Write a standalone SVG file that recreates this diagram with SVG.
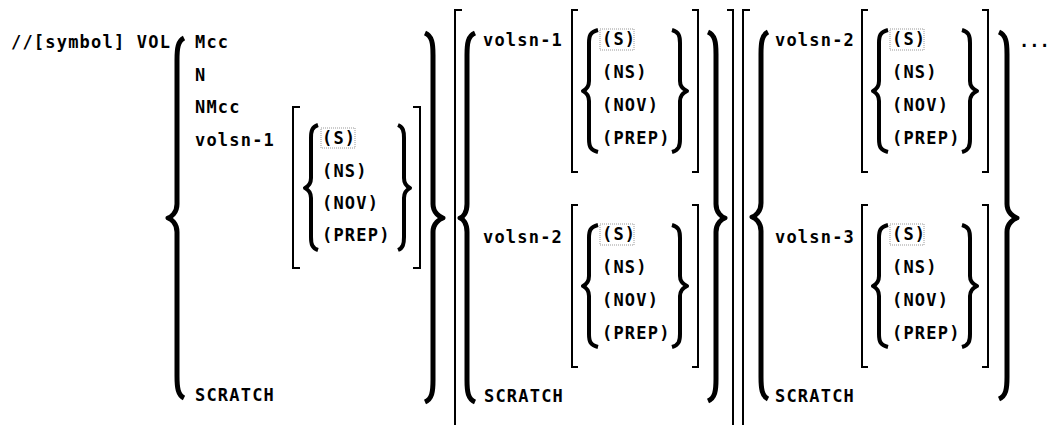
<svg xmlns="http://www.w3.org/2000/svg" width="1051" height="425" viewBox="0 0 1051 425">
<style>
text{font-family:"DejaVu Sans Mono","Liberation Mono",monospace;font-weight:bold;font-size:17px;letter-spacing:1.2px;fill:#000}
.br{fill:none;stroke:#000;stroke-width:5;stroke-linejoin:round}
.bi{fill:none;stroke:#000;stroke-width:4;stroke-linejoin:round}
.sq{fill:none;stroke:#000;stroke-width:2}
.hl{fill:none;stroke:#999;stroke-width:1;stroke-dasharray:1 1}
</style>
<defs>
<path id="ib-open" class="bi" d="M598,30 C590,32 589,36 589,43 L589,81 C589,88 585,90 583,91 C585,92 589,94 589,101 L589,139 C589,146 590,150 598,152"/>
<path id="ib-close" class="bi" d="M672,30 C679,32 680,36 680,43 L680,81 C680,88 685,90 687,91 C685,92 680,94 680,101 L680,139 C680,146 679,150 672,152"/>
<path id="sq-open" class="sq" d="M578,10 L572,10 L572,172 L578,172"/>
<path id="sq-close" class="sq" d="M692,10 L698,10 L698,172 L692,172"/>
<g id="opts">
<rect class="hl" x="600" y="29" width="34" height="21"/>
<text x="602" y="45">(S)</text>
<text x="602" y="78">(NS)</text>
<text x="602" y="111">(NOV)</text>
<text x="602" y="144">(PREP)</text>
</g>
<g id="block">
<use href="#sq-open"/>
<use href="#ib-open"/>
<use href="#opts"/>
<use href="#ib-close"/>
<use href="#sq-close"/>
</g>
</defs>

<g id="head">
<text x="11" y="48">//[symbol] VOL</text>
</g>

<g id="groupA">
<path class="br" d="M184,38 C178,41 177,48 177,60 L177,204 C177,213 171,217 168,218 C171,219 177,223 177,232 L177,376 C177,388 178,395 184,398"/>
<text x="195" y="48">Mcc</text>
<text x="195" y="80.5">N</text>
<text x="195" y="113">NMcc</text>
<text x="195" y="145.5">volsn-1</text>
<text x="195" y="401">SCRATCH</text>
<path class="sq" d="M300,107 L293,107 L293,268 L300,268"/>
<path class="bi" d="M318,125 C312,127 311,131 311,138 L311,178 C311,185 307,187 305,188 C307,189 311,191 311,198 L311,237 C311,244 312,248 318,250"/>
<rect class="hl" x="321" y="128" width="34" height="20"/>
<text x="322" y="144">(S)</text>
<text x="322" y="176.5">(NS)</text>
<text x="322" y="209">(NOV)</text>
<text x="322" y="241">(PREP)</text>
<path class="bi" d="M398,125 C403,127 404,131 404,138 L404,178 C404,185 408,187 410,188 C408,189 404,191 404,198 L404,237 C404,244 403,248 398,250"/>
<path class="sq" d="M413,107 L420,107 L420,268 L413,268"/>
<path class="br" d="M425,33 C432,36 433,43 433,55 L433,204 C433,213 440,217 443,218 C440,219 433,223 433,232 L433,380 C433,392 432,399 425,402"/>
</g>

<g id="groupB">
<path class="sq" d="M462,10 L455,10 L455,425"/>
<path class="br" d="M475,33 C468,36 467,43 467,55 L467,204 C467,213 463,217 460,218 C463,219 467,223 467,232 L467,380 C467,392 468,399 475,402"/>
<text x="483" y="46">volsn-1</text>
<use href="#block"/>
<text x="483" y="243">volsn-2</text>
<use href="#block" transform="translate(0,195)"/>
<text x="484" y="402">SCRATCH</text>
<path class="br" d="M708,32 C715,35 716,42 716,54 L716,204 C716,213 722,217 725,218 C722,219 716,223 716,232 L716,379 C716,391 715,398 708,401"/>
<path class="sq" d="M727,10 L733,10 L733,425"/>
</g>

<g id="groupC">
<path class="sq" d="M750,10 L743,10 L743,425"/>
<path class="br" d="M768,32 C762,35 761,42 761,54 L761,203 C761,212 755,216 752,217 C755,218 761,222 761,231 L761,377 C761,389 762,396 768,399"/>
<text x="775" y="46">volsn-2</text>
<use href="#block" transform="translate(290,0)"/>
<text x="775" y="243">volsn-3</text>
<use href="#block" transform="translate(290,195)"/>
<text x="775" y="402">SCRATCH</text>
<path class="br" d="M999,32 C1006,35 1007,42 1007,54 L1007,204 C1007,213 1014,217 1017,218 C1014,219 1007,223 1007,232 L1007,377 C1007,389 1006,396 999,399"/>
<text x="1019" y="47" style="letter-spacing:0">...</text>
</g>
</svg>
